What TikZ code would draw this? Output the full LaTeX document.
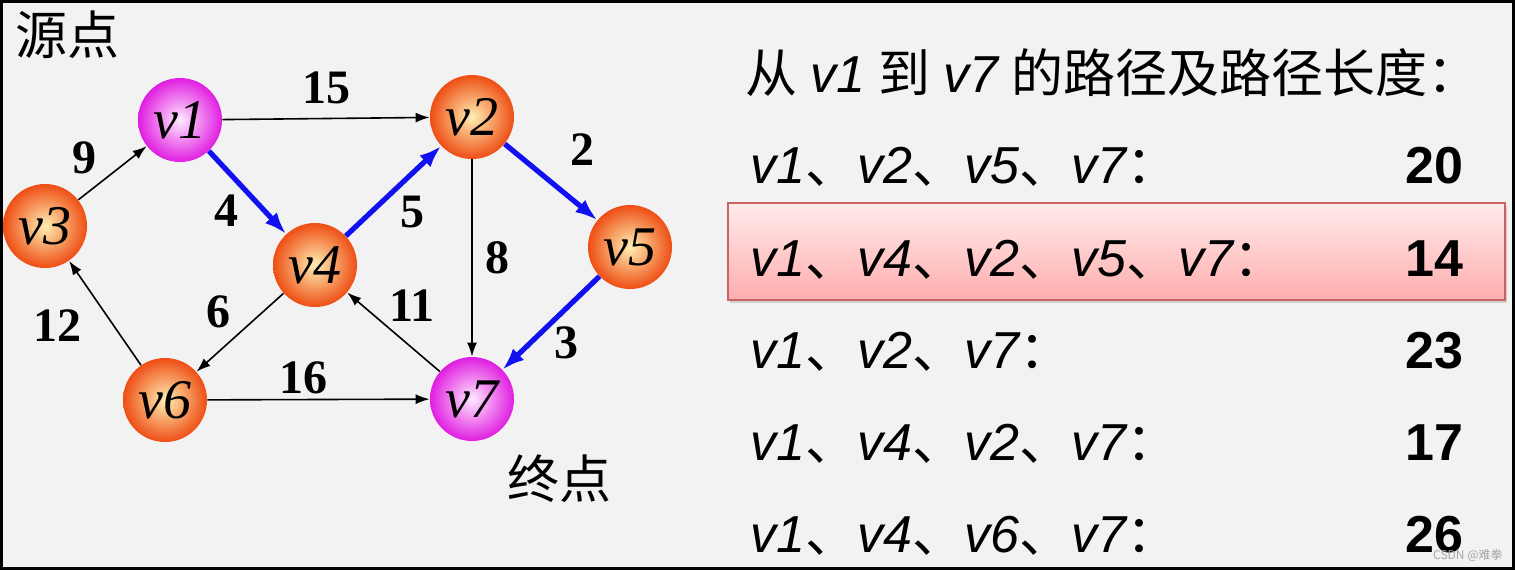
\documentclass[tikz,border=0pt]{standalone}
\usepackage{fontspec}
\setmainfont{Liberation Serif}
\newfontfamily\cjk{Noto Sans CJK SC}
\newfontfamily\lsans{Liberation Sans}
\usetikzlibrary{arrows.meta, shadows}

\definecolor{bgGray}{HTML}{F2F2F2}
\definecolor{ballRed}{HTML}{EE4E14}
\definecolor{ballCore}{HTML}{FFEFB4}
\definecolor{pinkEdge}{HTML}{E01EE0}
\definecolor{pinkCore}{HTML}{FFEAFF}
\definecolor{pathBlue}{HTML}{1010F0}
\definecolor{boxEdge}{HTML}{C86464}

\newcommand{\pv}[1]{{\lsans\itshape v#1}}
\newcommand{\dun}{{\cjk 、}}
\newcommand{\mao}{{\cjk ：}}

\tikzset{
  vtx/.style={circle, minimum size=42pt, inner sep=0pt, inner color=ballCore, outer color=ballRed,
    font=\fontsize{28}{28}\selectfont\itshape},
  endvtx/.style={vtx, inner color=pinkCore, outer color=pinkEdge},
  arc/.style={-{Latex[length=7pt,width=5pt]}, line width=0.8pt, black},
  hot/.style={-{Latex[length=11pt,width=8pt]}, line width=2.6pt, pathBlue},
  wt/.style={font=\fontsize{24}{24}\selectfont\bfseries, inner sep=0pt},
  tag/.style={font=\cjk\fontsize{26}{26}\selectfont, inner sep=0pt},
  row/.style={anchor=base west, inner sep=0pt, font=\fontsize{26}{26}\selectfont},
  len/.style={anchor=base east, inner sep=0pt, font=\lsans\fontsize{26}{26}\selectfont\bfseries},
}

\begin{document}
\begin{tikzpicture}[x=0.5pt, y=-0.5pt]
    % 1. Nền và khung
    \useasboundingbox (0,0) rectangle (1515,570);
    \fill[bgGray] (0,0) rectangle (1515,570);
    \draw[line width=1.5pt] (1.5,1.5) rectangle (1513.5,568.5);

    % 2. Các đỉnh của đồ thị
    \node[endvtx] (v1) at (180,120) {v1};
    \node[vtx] (v2) at (472,117) {v2};
    \node[vtx] (v3) at (45,226) {v3};
    \node[vtx] (v4) at (315,265) {v4};
    \node[vtx] (v5) at (630,247) {v5};
    \node[vtx] (v6) at (165,400) {v6};
    \node[endvtx] (v7) at (472,399) {v7};

    \node[tag] (src) at (68,35) {源点};
    \node[tag] (dst) at (559,479) {终点};

    % 3. Các cung: màu đen thường, màu xanh là đường ngắn nhất
    \foreach \a/\b in {v3/v1, v1/v2, v2/v7, v7/v4, v4/v6, v6/v3, v6/v7}
        \draw[arc] (\a) -- (\b);
    \foreach \a/\b in {v1/v4, v4/v2, v2/v5, v5/v7}
        \draw[hot] (\a) -- (\b);

    % 4. Trọng số trên các cung
    \foreach \w/\x/\y in {15/326/88, 9/84/158, 4/226/211, 5/412/212, 2/582/150,
                          8/497/258, 3/566/343, 11/412/306, 6/218/312, 12/57/326, 16/303/378}
        \node[wt] (w\w) at (\x,\y) {\w};

    % 5. Bảng các đường đi và độ dài
    \node[row] (head) at (745,92) {{\cjk 从} \pv{1} {\cjk 到} \pv{7} {\cjk 的路径及路径长度：}};
    \draw[boxEdge, line width=1pt, top color=red!8, bottom color=red!32,
          drop shadow={shadow xshift=1pt, shadow yshift=-1.5pt, opacity=0.3}]
        (728,203) rectangle (1505,300);
    \foreach \seq/\len/\yb [count=\i] in {
        {\pv1\dun\pv2\dun\pv5\dun\pv7\mao}/20/183,
        {\pv1\dun\pv4\dun\pv2\dun\pv5\dun\pv7\mao}/14/276,
        {\pv1\dun\pv2\dun\pv7\mao}/23/368,
        {\pv1\dun\pv4\dun\pv2\dun\pv7\mao}/17/460,
        {\pv1\dun\pv4\dun\pv6\dun\pv7\mao}/26/552}
    {
        \node[row] (p\i) at (750,\yb) {\seq};
        \node[len] (l\i) at (1464,\yb) {\len};
    }

    \node[anchor=east, inner sep=0pt, gray!70, font=\cjk\fontsize{6}{6}\selectfont] (mark) at (1503,555) {CSDN @难拳};
\end{tikzpicture}
\end{document}
